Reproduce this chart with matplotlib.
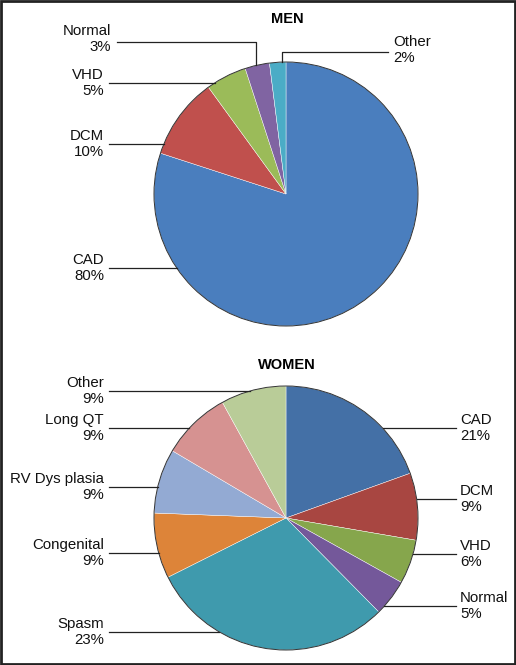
import numpy as np
import matplotlib
matplotlib.use("Agg")
import matplotlib.pyplot as plt
from matplotlib.patches import Circle, Rectangle

plt.rcParams['font.family'] = ['Liberation Sans', 'DejaVu Sans']

# data
men_labels = ["CAD", "DCM", "VHD", "Normal", "Other"]
men_values = [80, 10, 5, 3, 2]
men_pct = [80, 10, 5, 3, 2]
men_colors = ["#4a7ebe", "#c0504d", "#9bbb59", "#8064a2", "#4bacc6"]

women_labels = ["CAD", "DCM", "VHD", "Normal", "Spasm", "Congenital",
                "RV Dys plasia", "Long QT", "Other"]
# wedge sizes as drawn in the picture
women_values = [19.5, 8.2, 5.4, 4.5, 30.0, 8.0, 7.9, 8.5, 8.0]
# percentages printed on the labels
women_pct = [21, 9, 6, 5, 23, 9, 9, 9, 9]
women_colors = ["#4470a6", "#a84641", "#86a64c", "#74589a", "#3f9aad",
                "#dd8439", "#93aad3", "#d69291", "#b9cc98"]

W, H = 516, 665
fig = plt.figure(figsize=(W / 100, H / 100), dpi=100)
ax = fig.add_axes([0, 0, 1, 1])

R = 132
men_c = (286, 194)
women_c = (286, 518)


def draw_pie(values, colors, center):
    # y axis is flipped below, so -90 is the top and counterclock=True
    # runs clockwise on screen
    ax.pie(values, colors=colors, center=center, radius=R, startangle=-90,
           counterclock=True, frame=True, normalize=True,
           wedgeprops=dict(edgecolor='white', linewidth=0.3))
    ax.add_patch(Circle(center, R, fill=False, edgecolor='#333333', lw=0.7))


draw_pie(men_values, men_colors, men_c)
draw_pie(women_values, women_colors, women_c)
ax.set_xlim(0, W)
ax.set_ylim(H, 0)
ax.set_aspect('equal')
ax.axis('off')

fs = 10.8
lc = '#222222'


def edge_x(center, y, side):
    dy = y - center[1]
    return center[0] + side * np.sqrt(R ** 2 - dy ** 2)


def edge_y(center, x):
    dx = x - center[0]
    return center[1] - np.sqrt(R ** 2 - dx ** 2)


def label(text, tx, ty, ha):
    ax.text(tx, ty, text, ha=ha, va='center', multialignment=ha,
            fontsize=fs, linespacing=1.22, color='#111111')


def left_label(center, name, val, y, tx=104):
    label(f"{name}\n{val}%", tx, y, 'right')
    ax.plot([109, edge_x(center, y, -1)], [y, y], color=lc, lw=0.9)


def right_label(center, name, val, y):
    label(f"{name}\n{val}%", 460, y, 'left')
    ax.plot([456, edge_x(center, y, 1)], [y, y], color=lc, lw=0.9)


# MEN
ax.text(287, 19, "MEN", ha='center', va='center', fontsize=10.5,
        fontweight='bold')
men_y = {"CAD": 268, "DCM": 144, "VHD": 83}
for n, v in zip(men_labels, men_pct):
    if n in men_y:
        left_label(men_c, n, v, men_y[n])
# Normal and Other with bent leaders
label(f"{men_labels[3]}\n{men_pct[3]}%", 111, 39, 'right')
ax.plot([117, 256, 256], [42, 42, edge_y(men_c, 256)], color=lc, lw=0.9)
label(f"{men_labels[4]}\n{men_pct[4]}%", 393, 50, 'left')
ax.plot([388, 282, 282], [52, 52, edge_y(men_c, 282)], color=lc, lw=0.9)

# WOMEN
ax.text(287, 365, "WOMEN", ha='center', va='center', fontsize=10.5,
        fontweight='bold')
women_left = {"Other": 391, "Long QT": 428, "RV Dys plasia": 487,
              "Congenital": 553, "Spasm": 632}
women_right = {"CAD": 428, "DCM": 499, "VHD": 554, "Normal": 606}
for n, v in zip(women_labels, women_pct):
    if n in women_left:
        left_label(women_c, n, v, women_left[n])
    else:
        right_label(women_c, n, v, women_right[n])

# frame around the figure
fig.patches.append(Rectangle((0.002, 0.002), 0.996, 0.996,
                             transform=fig.transFigure, fill=False,
                             edgecolor='#222222', lw=2))

fig.savefig("out.png", dpi=100)
